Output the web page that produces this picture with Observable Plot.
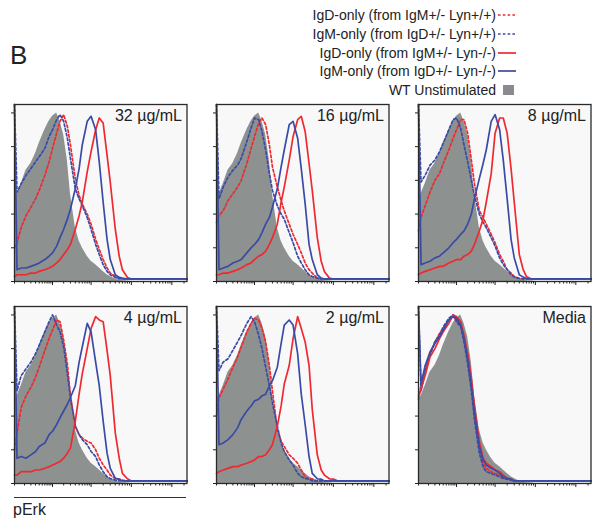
<!DOCTYPE html>
<html>
<head>
<meta charset="utf-8">
<script src="https://cdn.jsdelivr.net/npm/d3@7"></script>
<script src="https://cdn.jsdelivr.net/npm/@observablehq/plot@0.6"></script>
<style>
  body { margin: 0; background: #fff; font-family: "Liberation Sans", Arial, sans-serif; color: #222; }
  #root { position: relative; width: 597px; height: 529px; overflow: hidden; }
  .abs { position: absolute; }
  .legrow { position: absolute; right: 101px; font-size: 14px; line-height: 18px; white-space: nowrap; color: #222; }
  .sw { position: absolute; left: 498px; }
</style>
</head>
<body>
<div id="root">
  <div class="abs" style="left:10px; top:40px; font-size:26px; line-height:30px; color:#222;">B</div>
  <div class="abs" style="left:14px; top:497px; width:172px; border-top:1.2px solid #333;"></div>
  <div class="abs" style="left:13px; top:501px; font-size:16px; line-height:18px; color:#222;">pErk</div>
</div>
<script>
// x bins (fluorescence, biexponential-like display) shared by all histograms
const channelBins = [0, 2, 6, 12, 20, 30, 40, 60, 80, 100, 130, 160, 200, 250, 300, 400, 500, 600, 800, 1000, 1300, 1600, 2000, 2500, 3000, 4000, 5000, 6000, 8000, 10000, 13000, 16000, 20000, 30000, 50000, 100000, 237000];
const majorTicks = [100, 1000, 10000, 100000];
const minorTicks = [0, 10, 20, 30, 40, 50, 60, 70, 80, 90, 200, 300, 400, 500, 600, 700, 800, 900, 2000, 3000, 4000, 5000, 6000, 7000, 8000, 9000, 20000, 30000, 40000, 50000, 60000, 70000, 80000, 90000, 200000];
const yTicks = [0, 20, 40, 60, 80, 100];

const panelLabels = ["32 µg/mL", "16 µg/mL", "8 µg/mL", "4 µg/mL", "2 µg/mL", "Media"];
const seriesLabels = ["IgD-only (from IgM+/- Lyn+/+)", "IgM-only (from IgD+/- Lyn+/+)", "IgD-only (from IgM+/- Lyn-/-)", "IgM-only (from IgD+/- Lyn-/-)"];
const wtLabel = "WT Unstimulated";
const seriesColors = ["#ee2a30", "#3a4ba6", "#ee2a30", "#3a4ba6"];
const seriesDash = ["2.6,2.2", "2.6,2.2", null, null];

// % of max, WT unstimulated (gray fill)
const wtUnstimulated = [50, 52, 58, 66, 70, 76, 82, 90, 95, 98, 100, 95, 87, 72, 52, 32, 24, 20, 15, 12, 10, 8, 6, 4, 3, 1.5, 0.8, 0.5, 0.3, 0, 0, 0, 0, 0, 0, 0, 0];

// IgD-only (from IgM+/- Lyn+/+), red dotted, per panel
const igdOnlyLynWT = [
  [20, 23, 32, 39, 44, 49, 54, 63, 71, 79, 88, 95, 99, 92, 81, 61, 51, 46, 40, 34, 25, 19, 13, 8, 5, 3, 2, 1.5, 1.5, 1.5, 1.5, 1.5, 1.5, 1.5, 1.5, 1.5, 1.5],
  [35, 39, 42, 48, 52, 56, 60, 70, 79, 86, 94, 97, 93, 81, 68, 56, 48, 42, 34, 28, 22, 17, 11, 7, 5, 2, 1.5, 1.5, 1.5, 1.5, 1.5, 1.5, 1.5, 1.5, 1.5, 1.5, 1.5],
  [30, 38, 45, 53, 60, 64, 70, 78, 85, 90, 96, 96, 88, 72, 58, 42, 38, 34, 28, 23, 16, 12, 7, 5, 3, 1.8, 1.5, 1.5, 1.5, 1.5, 1.5, 1.5, 1.5, 1.5, 1.5, 1.5, 1.5],
  [20, 30, 45, 52, 57, 63, 69, 79, 86, 91, 97, 96, 85, 71, 52, 34, 29, 27, 25, 24, 20, 15, 11, 8, 5, 3, 2.6, 2, 1.5, 1.5, 1.5, 1.5, 1.5, 1.5, 1.5, 1.5, 1.5],
  [40, 51, 56, 62, 69, 75, 81, 90, 95, 98, 97, 92, 84, 70, 55, 32, 25, 22, 17, 15, 12, 8, 4, 2.8, 2.6, 1.5, 1.5, 1.5, 1.5, 1.5, 1.5, 1.5, 1.5, 1.5, 1.5, 1.5, 1.5],
  [50, 58, 68, 77, 84, 89, 92, 97, 99, 97, 95, 87, 75, 60, 44, 22, 12, 9, 7, 6, 5, 4, 3, 2.5, 1.5, 1.5, 1.5, 1.5, 1.5, 1.5, 1.5, 1.5, 1.5, 1.5, 1.5, 1.5, 1.5]
];

// IgM-only (from IgD+/- Lyn+/+), blue dotted
const igmOnlyLynWT = [
  [105, 53, 58, 63, 67, 71, 74, 79, 86, 90, 96, 99, 95, 85, 73, 55, 49, 45, 38, 31, 22, 16, 10, 6, 4, 2.4, 1.5, 1.5, 1.5, 1.5, 1.5, 1.5, 1.5, 1.5, 1.5, 1.5, 1.5],
  [105, 49, 56, 62, 66, 69, 73, 83, 91, 97, 96, 89, 78, 64, 54, 45, 40, 37, 29, 23, 15, 11, 7, 4, 3, 2, 1.5, 1.5, 1.5, 1.5, 1.5, 1.5, 1.5, 1.5, 1.5, 1.5, 1.5],
  [105, 59, 63, 69, 72, 77, 82, 90, 96, 97, 91, 81, 71, 60, 51, 40, 35, 32, 26, 21, 14, 10, 7, 4, 2.6, 1.8, 1.5, 1.5, 1.5, 1.5, 1.5, 1.5, 1.5, 1.5, 1.5, 1.5, 1.5],
  [105, 55, 64, 68, 72, 77, 82, 90, 96, 100, 94, 90, 81, 65, 51, 34, 29, 26, 23, 19, 16, 11, 7, 4, 3, 2, 1.5, 1.5, 1.5, 1.5, 1.5, 1.5, 1.5, 1.5, 1.5, 1.5, 1.5],
  [105, 67, 72, 74, 79, 84, 88, 95, 99, 96, 88, 80, 69, 58, 48, 34, 24, 19, 14, 11, 6, 4, 3, 2.6, 1.5, 1.5, 1.5, 1.5, 1.5, 1.5, 1.5, 1.5, 1.5, 1.5, 1.5, 1.5, 1.5],
  [105, 55, 66, 76, 84, 88, 93, 98, 100, 96, 93, 84, 71, 55, 38, 18, 10, 7, 6, 5, 4, 3, 2.5, 2, 1.5, 1.5, 1.5, 1.5, 1.5, 1.5, 1.5, 1.5, 1.5, 1.5, 1.5, 1.5, 1.5]
];

// IgD-only (from IgM+/- Lyn-/-), red solid
const igdOnlyLynKO = [
  [3, 4, 4, 4, 5, 5, 6, 7, 8, 9, 11, 13, 16, 19, 22, 31, 39, 47, 65, 77, 90, 97, 94, 75, 59, 31, 15, 7, 2.4, 1.5, 1.5, 1.5, 1.5, 1.5, 1.5, 1.5, 1.5],
  [4, 4, 5, 5, 6, 7, 8, 10, 11, 13, 15, 16, 18, 22, 26, 34, 47, 56, 72, 86, 96, 98, 89, 70, 54, 26, 12, 6, 2, 1.5, 1.5, 1.5, 1.5, 1.5, 1.5, 1.5, 1.5],
  [4, 5, 6, 7, 8, 9, 9, 11, 12, 13, 13, 15, 16, 18, 22, 30, 37, 47, 64, 88, 97, 97, 88, 67, 47, 16, 7, 3, 1.5, 1.5, 1.5, 1.5, 1.5, 1.5, 1.5, 1.5, 1.5],
  [5, 5, 7, 7, 7, 8, 8, 9, 10, 11, 12, 13, 15, 18, 21, 37, 53, 65, 80, 92, 99, 97, 96, 79, 64, 30, 15, 6, 2.8, 1.5, 1.5, 1.5, 1.5, 1.5, 1.5, 1.5, 1.5],
  [6, 7, 8, 9, 10, 10, 11, 12, 13, 14, 16, 16, 17, 20, 23, 34, 46, 59, 70, 86, 99, 92, 84, 70, 44, 17, 8, 5, 2.8, 2.6, 1.5, 1.5, 1.5, 1.5, 1.5, 1.5, 1.5],
  [52, 56, 64, 75, 80, 86, 90, 95, 100, 99, 96, 88, 77, 62, 46, 25, 15, 12, 10, 8, 7, 5, 3, 2.6, 1.5, 1.5, 1.5, 1.5, 1.5, 1.5, 1.5, 1.5, 1.5, 1.5, 1.5, 1.5, 1.5]
];

// IgM-only (from IgD+/- Lyn-/-), blue solid
const igmOnlyLynKO = [
  [105, 7, 8, 8, 9, 10, 11, 13, 15, 17, 21, 26, 31, 37, 43, 55, 67, 81, 95, 98, 90, 71, 47, 25, 13, 4, 2.4, 2, 1.5, 1.5, 1.5, 1.5, 1.5, 1.5, 1.5, 1.5, 1.5],
  [105, 7, 8, 9, 11, 12, 13, 17, 20, 22, 25, 29, 34, 38, 44, 55, 68, 78, 93, 95, 85, 67, 46, 22, 13, 4, 2, 1.5, 1.5, 1.5, 1.5, 1.5, 1.5, 1.5, 1.5, 1.5, 1.5],
  [105, 10, 11, 12, 14, 15, 17, 20, 23, 25, 28, 30, 34, 40, 49, 61, 70, 78, 95, 99, 90, 72, 49, 25, 14, 4, 2.6, 1.8, 1.5, 1.5, 1.5, 1.5, 1.5, 1.5, 1.5, 1.5, 1.5],
  [105, 15, 16, 15, 17, 19, 22, 24, 29, 31, 35, 39, 43, 47, 51, 58, 72, 81, 95, 90, 72, 58, 37, 18, 9, 3, 2.6, 1.5, 1.5, 1.5, 1.5, 1.5, 1.5, 1.5, 1.5, 1.5, 1.5],
  [105, 23, 24, 26, 29, 33, 38, 43, 46, 49, 50, 52, 53, 58, 61, 69, 83, 94, 97, 94, 77, 53, 35, 16, 6, 2.8, 2.6, 1.5, 1.5, 1.5, 1.5, 1.5, 1.5, 1.5, 1.5, 1.5, 1.5],
  [105, 59, 70, 78, 83, 87, 91, 97, 99, 98, 94, 86, 74, 58, 42, 22, 14, 11, 9, 8, 6, 4, 3, 2.6, 1.5, 1.5, 1.5, 1.5, 1.5, 1.5, 1.5, 1.5, 1.5, 1.5, 1.5, 1.5, 1.5]
];

const panelLefts = [14, 216, 418];
const panelTops = [104, 305.5];

const root = document.getElementById("root");
const W = 172.5, H = 177, mL = 8, mR = 3, mT = 3, mB = 8;
const seriesData = [igdOnlyLynWT, igmOnlyLynWT, igdOnlyLynKO, igmOnlyLynKO];
const noText = () => "";

panelLabels.forEach((label, i) => {
  const wt = channelBins.map((x, j) => ({x, y: wtUnstimulated[j]}));
  const lines = seriesData.map((arr, s) =>
    Plot.lineY(channelBins.map((x, j) => ({x, y: arr[i][j]})), {
      x: "x", y: "y", stroke: seriesColors[s], strokeWidth: 1.7,
      strokeDasharray: seriesDash[s] || undefined
    })
  );
  const svg = Plot.plot({
    width: W + mL + mR,
    height: H + mT + mB,
    marginLeft: mL, marginRight: mR, marginTop: mT, marginBottom: mB,
    x: {type: "symlog", constant: 13, domain: [0, 237000]},
    y: {domain: [0, 105]},
    style: {fontFamily: "Liberation Sans, Arial, sans-serif", background: "transparent", color: "#222", overflow: "visible"},
    marks: [
      Plot.frame({fill: "#f8f8f9", stroke: null}),
      Plot.areaY(wt, {x: "x", y: "y", fill: "#8d918f"}),
      ...lines,
      Plot.frame({stroke: "#2a2a2a", strokeWidth: 1.3}),
      Plot.axisY({ticks: yTicks, tickSize: 3, tickFormat: noText, label: null, stroke: "#222"}),
      Plot.axisX({ticks: majorTicks, tickSize: 4, tickFormat: noText, label: null, stroke: "#222"}),
      Plot.axisX({ticks: minorTicks, tickSize: 2.5, tickFormat: noText, label: null, stroke: "#222"}),
      Plot.text([label], {text: d => d, frameAnchor: "top-right", dx: -5, dy: 5, fontSize: 16, fill: "#222"})
    ]
  });
  const col = i % 3, row = Math.floor(i / 3);
  svg.style.position = "absolute";
  svg.style.left = (panelLefts[col] - mL) + "px";
  svg.style.top = (panelTops[row] - mT) + "px";
  root.appendChild(svg);
});

// legend
const legendItems = seriesLabels.concat([wtLabel]);
legendItems.forEach((lab, k) => {
  const cy = 15 + k * 18.8;
  const row = document.createElement("div");
  row.className = "legrow";
  row.style.top = (cy - 9) + "px";
  row.textContent = lab;
  root.appendChild(row);
  const ns = "http://www.w3.org/2000/svg";
  const sw = document.createElementNS(ns, "svg");
  sw.setAttribute("width", 19); sw.setAttribute("height", 12);
  sw.setAttribute("class", "sw");
  sw.style.top = (cy - 6) + "px";
  if (k < 4) {
    const ln = document.createElementNS(ns, "line");
    ln.setAttribute("x1", 0); ln.setAttribute("x2", 18);
    ln.setAttribute("y1", 6); ln.setAttribute("y2", 6);
    ln.setAttribute("stroke", seriesColors[k]);
    ln.setAttribute("stroke-width", 1.7);
    if (seriesDash[k]) ln.setAttribute("stroke-dasharray", seriesDash[k]);
    sw.appendChild(ln);
  } else {
    const r = document.createElementNS(ns, "rect");
    r.setAttribute("x", 5); r.setAttribute("y", 1);
    r.setAttribute("width", 11); r.setAttribute("height", 10);
    r.setAttribute("fill", "#8a8a8e");
    sw.appendChild(r);
  }
  root.appendChild(sw);
});
</script>
</body>
</html>
